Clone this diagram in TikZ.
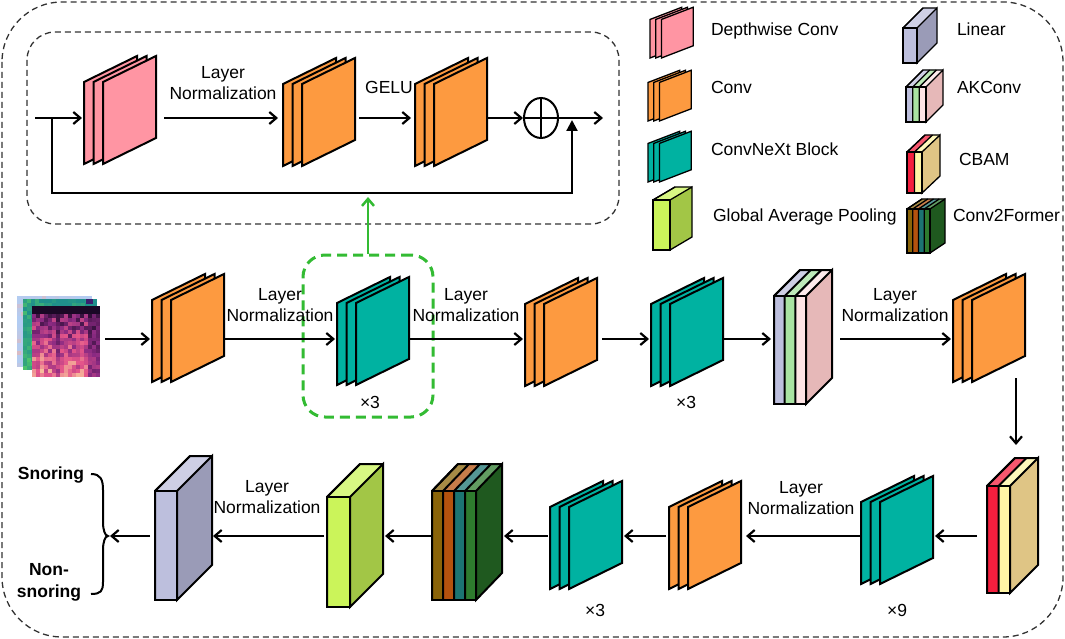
\documentclass[tikz,border=0pt]{standalone}
\usepackage{fontspec}
\setmainfont{Liberation Sans}
\usetikzlibrary{arrows.meta,shapes.geometric}
\definecolor{pinkc}{HTML}{FF95A3}
\definecolor{orangec}{HTML}{FD9A40}
\definecolor{tealc}{HTML}{00B2A1}
\definecolor{lavc}{HTML}{BDBFDD}
\definecolor{lavside}{HTML}{9A9BB7}
\definecolor{akg}{HTML}{A9E3A2}
\definecolor{akp}{HTML}{FDE3E4}
\definecolor{akside}{HTML}{E6B8B8}
\definecolor{cbr}{HTML}{F41F3E}
\definecolor{cby}{HTML}{FFF5A5}
\definecolor{cbside}{HTML}{DFC585}
\definecolor{cta}{HTML}{8A6409}
\definecolor{ctb}{HTML}{B4520E}
\definecolor{ctc}{HTML}{1C7472}
\definecolor{ctd}{HTML}{2E7B2E}
\definecolor{ctside}{HTML}{1F591F}
\definecolor{gapf}{HTML}{CBF45A}
\definecolor{gapside}{HTML}{A2C646}
\definecolor{grn}{HTML}{33BB33}
\definecolor{cwB}{HTML}{B2CCF2}
\definecolor{cwR}{HTML}{F2AFA6}
\definecolor{vA}{HTML}{1F8F8B}
\definecolor{vB}{HTML}{4CC26C}
\definecolor{vC}{HTML}{3B1F6E}
\definecolor{magD}{HTML}{1A0826}
\definecolor{magP}{HTML}{8A2A82}
\definecolor{magK}{HTML}{E4558A}
\definecolor{magY}{HTML}{FCD9A0}
\newcommand\cuboid[9]{%
  \pgfmathsetmacro\cubw{(#2-#1)/#8}%
  \foreach \cubc [count=\cubi from 0] in {#9}{%
    \pgfmathsetmacro\cubxa{#1+\cubi*\cubw}%
    \pgfmathsetmacro\cubxb{#1+(\cubi+1)*\cubw}%
    \fill[\cubc] (\cubxa,#3) rectangle (\cubxb,#4);
    \fill[\cubc!75!white] (\cubxa,#3) -- ++(#5,-#6) -- (\cubxb+#5,#3-#6) -- (\cubxb,#3) -- cycle;
    \draw (\cubxa,#3) -- (\cubxa,#4) (\cubxa,#3) -- ++(#5,-#6);
  }%
  \filldraw[fill=#7] (#2,#3) -- ++(#5,-#6) -- (#2+#5,#4-#6) -- (#2,#4) -- cycle;
  \draw (#1,#3) rectangle (#2,#4);
  \draw (#1,#3) -- ++(#5,-#6) -- (#2+#5,#3-#6);
}
\tikzset{
  pics/stk/.style={code={
    \foreach \k in {0,1,2}{
      \filldraw[fill=#1] (\k*9.5,0) -- (\k*9.5,-82) -- (\k*9.5+53,-108) -- (\k*9.5+53,-26) -- cycle;
    }
  }},
  ln/.style={line width=2.2pt},
  arr/.style={line width=2.2pt,-{Straight Barb[length=7pt,width=12pt]}},
  lbl/.style={font=\fontsize{17.5}{21}\selectfont,align=center,inner sep=0pt},
  leg/.style={font=\fontsize{17.5}{21}\selectfont,inner sep=0pt,anchor=base west},
  dbox/.style={draw=black!80,line width=1.3pt,dash pattern=on 6pt off 4pt},
  gbox/.style={draw=grn,line width=3pt,dash pattern=on 10pt off 6pt,rounded corners=22pt,minimum width=130pt,minimum height=162pt,inner sep=0pt},
  garr/.style={draw=grn,line width=2.5pt,-{Straight Barb[length=7pt,width=12pt]}},
}
\begin{document}
\begin{tikzpicture}[x=1pt,y=-1pt,line width=2pt]
\useasboundingbox (0,0) rectangle (1065,639);
% frames
\draw[dbox,rounded corners=60pt] (2,2) rectangle (1063,637);
\draw[dbox,rounded corners=28pt] (27,32) rectangle (619,224);

% ---------- inner block ----------
\pic at (84,164) {stk=pinkc};
\pic at (283,166) {stk=orangec};
\pic at (415,166) {stk=orangec};
\coordinate (inS) at (35,118);
\coordinate (inB) at (52,118);
\coordinate (pkW) at (82,118);
\coordinate (pkE) at (164,118);
\coordinate (o1W) at (278,118);
\coordinate (o1E) at (359,118);
\coordinate (o2W) at (411,118);
\coordinate (o2E) at (488,118);
\coordinate (outE) at (603,118);
\coordinate (fbB) at (52,193);
\coordinate (fbR) at (572,193);
\coordinate (fbT) at (572,120);
\node[draw,ellipse,minimum width=34pt,minimum height=40pt,inner sep=0pt,line width=2pt] (add) at (541,118) {};
\draw[line width=2pt] (add.north) -- (add.south) (add.west) -- (add.east);
\draw[ln] (inS) -- (inB);
\draw[arr] (inB) -- (pkW);
\draw[ln,-{Triangle[length=11pt,width=11pt]}] (inB) -- (fbB) -- (fbR) -- (fbT);
\draw[arr] (pkE) -- (o1W);
\draw[arr] (o1E) -- (o2W);
\draw[arr] (o2E) -- (add.west);
\draw[arr] (add.east) -- (outE);
\node[lbl] (lnI) at (223,83.5) {Layer\\Normalization};
\node[lbl] (gelu) at (389,87) {GELU};

% ---------- legend ----------
\begin{scope}[line width=1.3pt]
\pic[xscale=0.6,yscale=0.47] at (650,58) {stk=pinkc};
\pic[xscale=0.6,yscale=0.47] at (648,121) {stk=orangec};
\pic[xscale=0.6,yscale=0.47] at (648,182) {stk=tealc};
\cuboid{653}{670}{200}{250}{22}{13}{gapside}{1}{gapf}
\cuboid{903}{917}{28}{63}{20}{20}{lavside}{1}{lavc}
\cuboid{906}{926}{87}{122}{17}{17}{akside}{3}{lavc,akg,akp}
\cuboid{907}{922}{152}{193}{18}{17}{cbside}{2}{cbr,cby}
\cuboid{907}{930}{209}{253}{15}{10}{ctside}{4}{cta,ctb,ctc,ctd}
\end{scope}
\node[leg] (lg1) at (710,36) {Depthwise Conv};
\node[leg] (lg2) at (710,94) {Conv};
\node[leg] (lg3) at (710,156) {ConvNeXt Block};
\node[leg] (lg4) at (712,222) {Global Average Pooling};
\node[leg] (lg5) at (956,36) {Linear};
\node[leg] (lg6) at (956,94) {AKConv};
\node[leg] (lg7) at (958,166) {CBAM};
\node[leg] (lg8) at (952,222) {Conv2Former};

% ---------- input spectrograms ----------
\pgfmathsetseed{7}
% back (coolwarm)
\foreach \i in {0,...,17}{\foreach \j in {0,...,17}{
  \pgfmathtruncatemacro\pp{100*rnd*rnd*rnd}
  \fill[cwR!\pp!cwB] (17+\i*4.17,296+\j*3.94) rectangle ++(4.5,4.3);
}}
% middle (viridis)
\foreach \i in {0,...,17}{\foreach \j in {0,...,17}{
  \pgfmathtruncatemacro\pp{min(100,max(0,100*rnd*rnd+40*\j/17-25*\i/17))}
  \fill[vB!\pp!vA] (23+\i*4.11,299+\j*3.94) rectangle ++(4.5,4.3);
}}
\fill[vC] (86,299) rectangle (93,304);
% front (magma)
\foreach \i in {0,...,16}{\foreach \j in {0,...,17}{
  \pgfmathsetmacro\vv{0.25+0.5*\j/17+0.45*(rnd-0.5)}
  \pgfmathsetmacro\vw{\vv*(\j>1)*(1-0.45*(\i>13))*(1-0.35*(\i==6))}
  \pgfmathtruncatemacro\pp{min(299,max(0,300*\vw))}
  \ifnum\pp<100
    \def\mc{magP!\pp!magD}%
  \else\ifnum\pp<200
    \pgfmathtruncatemacro\qq{\pp-100}\def\mc{magK!\qq!magP}%
  \else
    \pgfmathtruncatemacro\qq{\pp-200}\def\mc{magY!\qq!magK}%
  \fi\fi
  \fill[\mc] (32+\i*4,306+\j*3.94) rectangle ++(4.4,4.3);
}}
\coordinate (imgE) at (105,339);

% ---------- main row ----------
\pic at (152,382) {stk=orangec};
\node[gbox] (gb) at (368,336) {};
\pic at (337,385) {stk=tealc};
\pic at (525,386) {stk=orangec};
\pic at (651,386) {stk=tealc};
\cuboid{774}{806}{296}{404}{26}{26}{akside}{3}{lavc,akg,akp}
\pic at (953,382) {stk=orangec};
\coordinate (gTip) at (368,197);
\draw[garr] (gb.north) -- (gTip);

\coordinate (oAW) at (150,339);
\coordinate (oAE) at (224,339);
\coordinate (tAW) at (335,339);
\coordinate (tAE) at (410,339);
\coordinate (oBW) at (523,339);
\coordinate (oBE) at (602,339);
\coordinate (tBW) at (649,339);
\coordinate (tBE) at (723,339);
\coordinate (akW) at (771,339);
\coordinate (akE) at (840,339);
\coordinate (oCW) at (951,339);
\draw[arr] (imgE) -- (oAW);
\draw[arr] (oAE) -- (tAW);
\draw[arr] (tAE) -- (oBW);
\draw[arr] (oBE) -- (tBW);
\draw[arr] (tBE) -- (akW);
\draw[arr] (akE) -- (oCW);
\node[lbl] (lnA) at (280,305.5) {Layer\\Normalization};
\node[lbl] (lnB) at (466,305.5) {Layer\\Normalization};
\node[lbl] (lnC) at (895,305) {Layer\\Normalization};
\node[lbl] (x3a) at (370,402) {×3};
\node[lbl] (x3b) at (686,402) {×3};

% ---------- right / bottom row ----------
\cuboid{987}{1010}{486}{593}{28}{28}{cbside}{2}{cbr,cby}
\pic at (861,584) {stk=tealc};
\pic at (669,589) {stk=orangec};
\pic at (550,589) {stk=tealc};
\cuboid{432}{476}{491}{600}{26}{27}{ctside}{4}{cta,ctb,ctc,ctd}
\cuboid{327}{350}{497}{607}{33}{33}{gapside}{1}{gapf}
\cuboid{155}{177}{491}{600}{35}{35}{lavside}{1}{lavc}

\coordinate (oCS) at (1016,378);
\coordinate (cbN) at (1016,445);
\coordinate (cbW) at (977,536);
\coordinate (tCE) at (935,536);
\coordinate (tCW) at (860,536);
\coordinate (oDE) at (746,536);
\coordinate (oDW) at (666,536);
\coordinate (tDE) at (624,536);
\coordinate (tDW) at (548,536);
\coordinate (ctE) at (504,536);
\coordinate (ctW) at (431,536);
\coordinate (gpE) at (385,536);
\coordinate (gpW) at (324,536);
\coordinate (liE) at (213,536);
\coordinate (liW) at (150,536);
\coordinate (brc) at (110,536);
\draw[arr] (oCS) -- (cbN);
\draw[arr] (cbW) -- (tCE);
\draw[arr] (tCW) -- (oDE);
\draw[arr] (oDW) -- (tDE);
\draw[arr] (tDW) -- (ctE);
\draw[arr] (ctW) -- (gpE);
\draw[arr] (gpW) -- (liE);
\draw[arr] (liW) -- (brc);
\node[lbl] (lnD) at (801,498.5) {Layer\\Normalization};
\node[lbl] (lnE) at (267,497.5) {Layer\\Normalization};
\node[lbl] (x9) at (897,610) {×9};
\node[lbl] (x3c) at (595,610) {×3};

% brace and outputs
\draw[line width=2pt] (91,474) .. controls (101,474) and (103,480) .. (103,490) -- (103,522) .. controls (103,530) and (105,536) .. (108,536) .. controls (105,536) and (103,542) .. (103,550) -- (103,582) .. controls (103,591) and (101,594) .. (91,594);
\node[lbl,font=\fontsize{17.5}{22}\bfseries\selectfont,anchor=base] (sn) at (51,479) {Snoring};
\node[lbl,font=\fontsize{17.5}{22}\bfseries\selectfont,anchor=north] (nsn) at (49,562.5) {Non-\\snoring};
\end{tikzpicture}
\end{document}
